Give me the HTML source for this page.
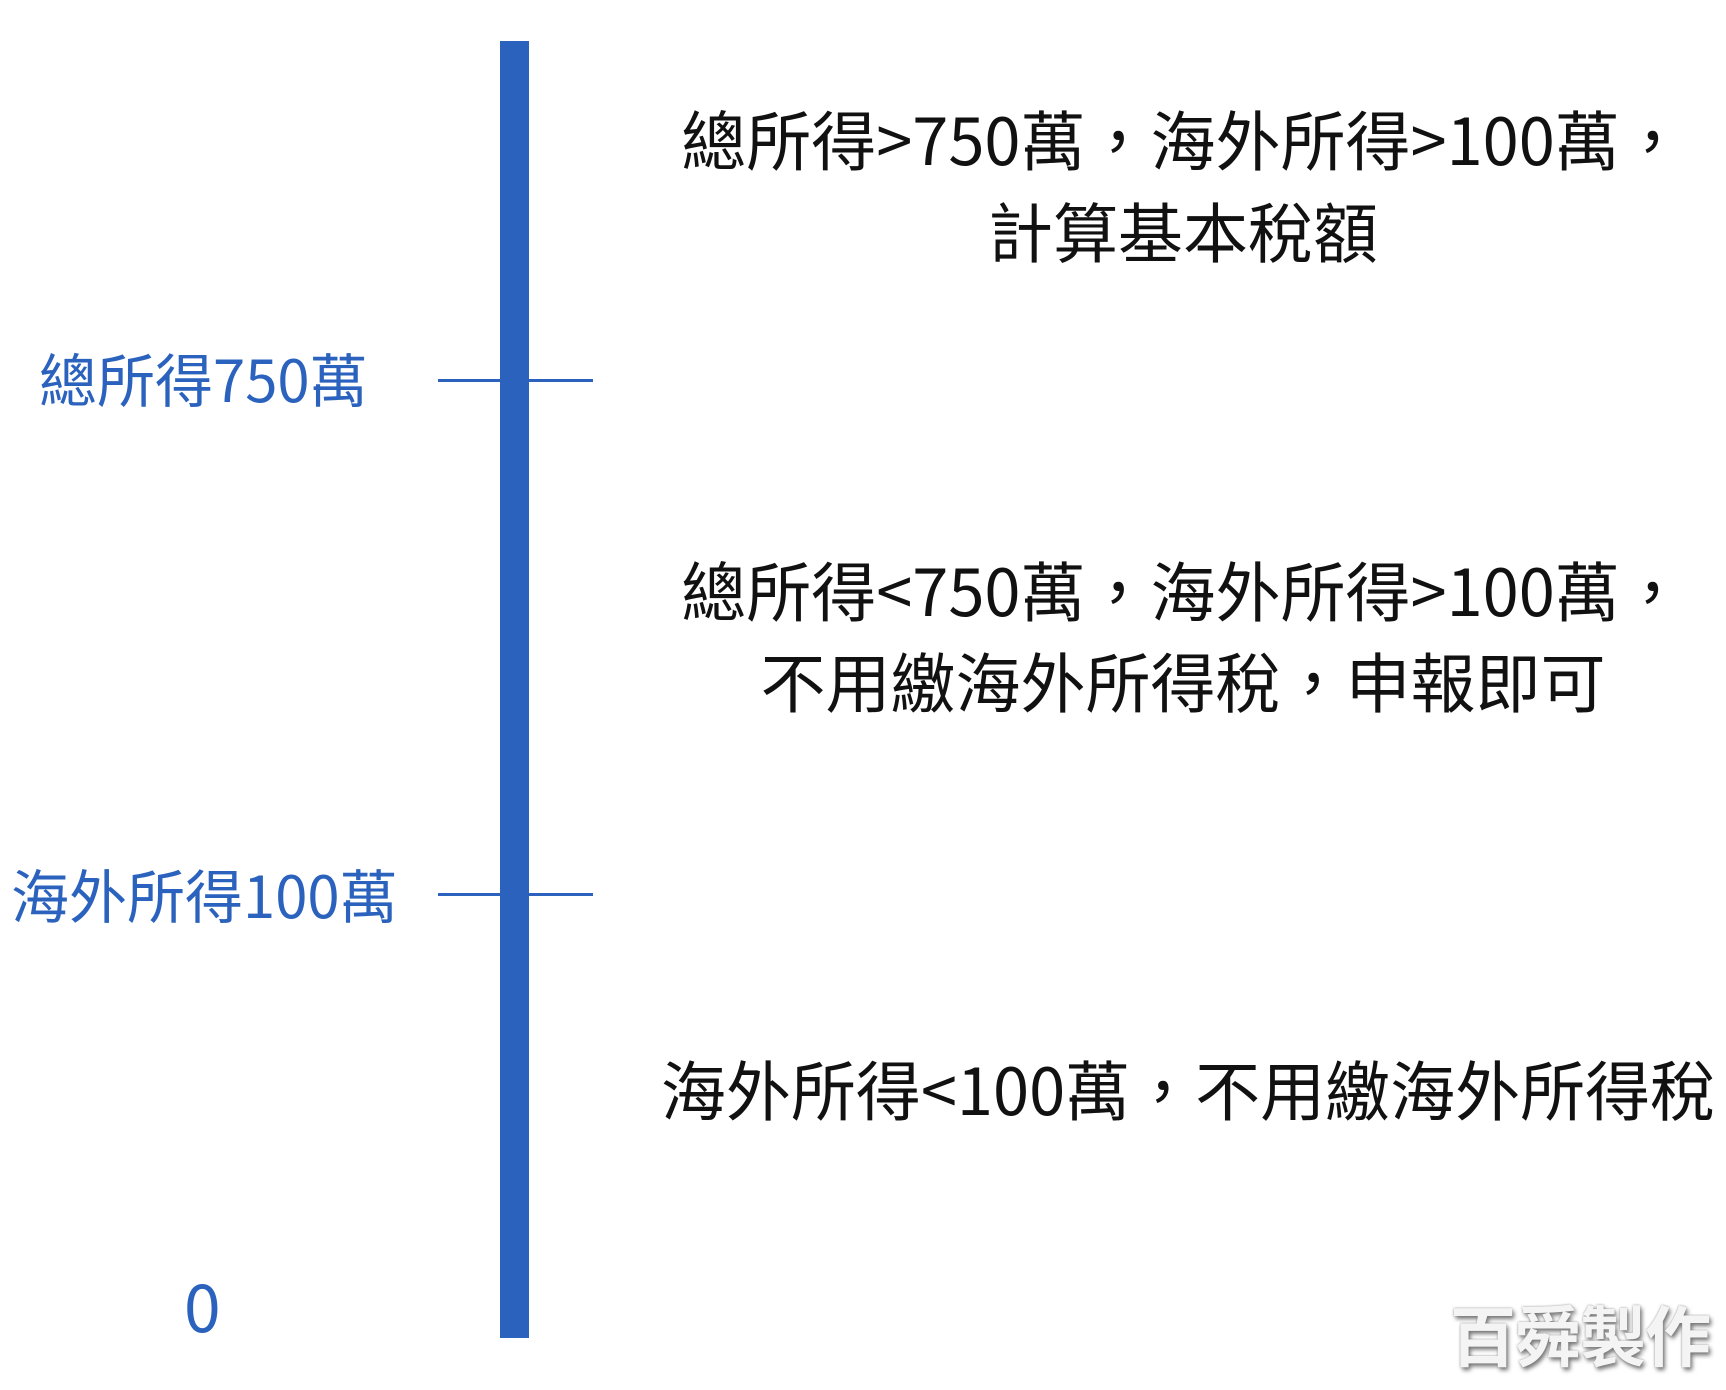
<!DOCTYPE html>
<html><head><meta charset="utf-8"><style>
html,body{margin:0;padding:0;background:#fff;}
body{width:1726px;height:1390px;position:relative;overflow:hidden;font-family:"Noto Sans CJK TC","Liberation Sans",sans-serif;}
.t{position:absolute;white-space:nowrap;line-height:1;}
.b{color:#2a62bd;font-size:58px;}
.k{color:#111;font-size:65px;text-align:center;transform:translateX(-50%);}
</style></head><body>
<div style="position:absolute;left:500px;top:41px;width:29px;height:1297px;background:#2a62bd"></div>
<div style="position:absolute;left:438px;top:379px;width:155px;height:3px;background:#2a62bd"></div>
<div style="position:absolute;left:438px;top:893px;width:155px;height:3px;background:#2a62bd"></div>
<div class="t b" style="left:39px;top:348px">總所得750萬</div>
<div class="t b" style="left:11px;top:864px">海外所得100萬</div>
<div class="t b" style="left:184px;top:1271px;font-size:66px">0</div>
<div class="t k" style="left:1183px;top:105px">總所得&gt;750萬，海外所得&gt;100萬，</div>
<div class="t k" style="left:1183px;top:197px">計算基本稅額</div>
<div class="t k" style="left:1183px;top:556px">總所得&lt;750萬，海外所得&gt;100萬，</div>
<div class="t k" style="left:1183px;top:647px">不用繳海外所得稅，申報即可</div>
<div class="t k" style="left:1188px;top:1055px">海外所得&lt;100萬，不用繳海外所得稅</div>
<div class="t" style="left:1450px;top:1300px;font-size:66px;font-weight:bold;color:#f4f4f4;text-shadow:2px 3px 4px #777,0 0 2px #999;letter-spacing:-1px">百舜製作</div>
</body></html>
